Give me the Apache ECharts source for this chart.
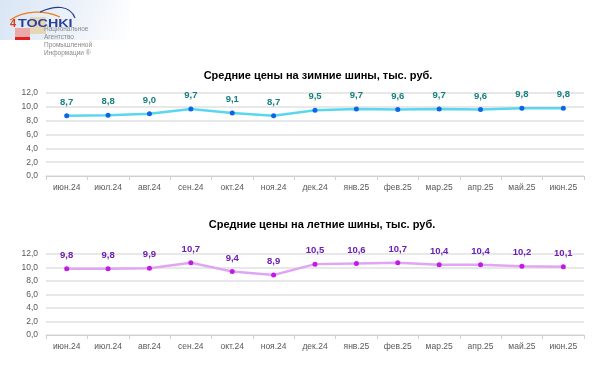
<!DOCTYPE html>
<html><head><meta charset="utf-8">
<script src="https://cdn.jsdelivr.net/npm/echarts@6/dist/echarts.min.js"></script>
<style>html,body{margin:0;padding:0;background:#fff}#c{width:600px;height:370px}</style>
</head><body><div id="c"></div>
<script>
const categories = ['июн.24','июл.24','авг.24','сен.24','окт.24','ноя.24','дек.24','янв.25','фев.25','мар.25','апр.25','май.25','июн.25'];
const winterValues = [8.7,8.8,9.0,9.7,9.1,8.7,9.5,9.7,9.6,9.7,9.6,9.8,9.8];
const summerValues = [9.8,9.8,9.9,10.7,9.4,8.9,10.5,10.6,10.7,10.4,10.4,10.2,10.1];
const winterTitle = 'Средние цены на зимние шины, тыс. руб.';
const summerTitle = 'Средние цены на летние шины, тыс. руб.';
const yTicks = [0,2,4,6,8,10,12];

const fmt = v => Number(v).toFixed(1).replace('.', ',');
const chart = echarts.init(document.getElementById('c'), null, {renderer:'canvas'});
const font = '"Liberation Sans", Arial, sans-serif';
function xAx(i){return {type:'category',gridIndex:i,data:categories,boundaryGap:true,
  axisLine:{lineStyle:{color:'#d0d0d0',width:1}},axisTick:{show:true,length:4,lineStyle:{color:'#d0d0d0'}},
  axisLabel:{color:'#595959',fontSize:8.5,fontFamily:font,margin:7}};}
function yAx(i){return {type:'value',gridIndex:i,min:yTicks[0],max:yTicks[yTicks.length-1],interval:2,
  axisLine:{show:false},axisTick:{show:false},splitLine:{lineStyle:{color:'#e0e0e0',width:1.5}},
  axisLabel:{color:'#595959',fontSize:8.5,fontFamily:font,margin:8,formatter:fmt}};}
chart.setOption({
  animation:false,
  title:[
    {text:winterTitle,left:313,textAlign:'center',top:65,textStyle:{fontSize:11,fontWeight:'bold',color:'#000',fontFamily:font}},
    {text:summerTitle,left:317,textAlign:'center',top:214,textStyle:{fontSize:11,fontWeight:'bold',color:'#000',fontFamily:font}}
  ],
  grid:[{left:46,right:16,top:93,height:83},{left:46,right:16,top:254,height:81}],
  xAxis:[xAx(0),xAx(1)],
  yAxis:[yAx(0),yAx(1)],
  series:[
    {type:'line',xAxisIndex:0,yAxisIndex:0,data:winterValues,symbol:'circle',symbolSize:5,
     lineStyle:{color:'#5ad6ee',width:2.5},itemStyle:{color:'#0a66e6'},
     label:{show:true,position:'top',distance:6,color:'#17807c',fontWeight:'bold',fontSize:9.5,fontFamily:font,formatter:p=>fmt(p.value)}},
    {type:'line',xAxisIndex:1,yAxisIndex:1,data:summerValues,symbol:'circle',symbolSize:5,
     lineStyle:{color:'#e0a6f2',width:2.5},itemStyle:{color:'#c418e6'},
     label:{show:true,position:'top',distance:6,color:'#6a1fb0',fontWeight:'bold',fontSize:9.5,fontFamily:font,formatter:p=>fmt(p.value)}}
  ],
  graphic:[
    {type:'rect',left:0,top:0,shape:{width:130,height:40},z:-1,style:{fill:new echarts.graphic.LinearGradient(0,0,1,1,[{offset:0,color:'#d9e6f5'},{offset:0.6,color:'#eef3fa'},{offset:1,color:'#ffffff'}])}},
    {type:'rect',left:15,top:28,shape:{width:15,height:10},style:{fill:'#eaa9a9'}},
    {type:'rect',left:15,top:37,shape:{width:15,height:3},style:{fill:'#e02020'}},
    {type:'rect',left:30,top:17,shape:{width:16,height:17},style:{fill:'#e6cfa8',opacity:0.8}},
    {type:'bezierCurve',shape:{x1:10,y1:20,x2:60,y2:17,cpx1:25,cpy1:10,cpx2:45,cpy2:10},style:{stroke:'#f07a20',lineWidth:1.2,fill:null}},
    {type:'bezierCurve',shape:{x1:40,y1:12,x2:75,y2:18,cpx1:55,cpy1:5,cpx2:70,cpy2:5},style:{stroke:'#233c8a',lineWidth:1.2,fill:null}},
    {type:'text',x:10,y:18,style:{text:'4',fill:'#e03a1e',font:'bold 11px '+font}},
    {type:'text',x:18,y:18,scaleX:1.3,style:{text:'TOCHKI',fill:'#2a3f96',font:'bold 11px '+font}},
    {type:'text',left:44,top:25,style:{text:'Национальное\nАгентство\nПромышленной\nИнформации ®',fill:'#8a8a8a',font:'6.5px '+font,lineHeight:8}}
  ]
});
</script></body></html>
